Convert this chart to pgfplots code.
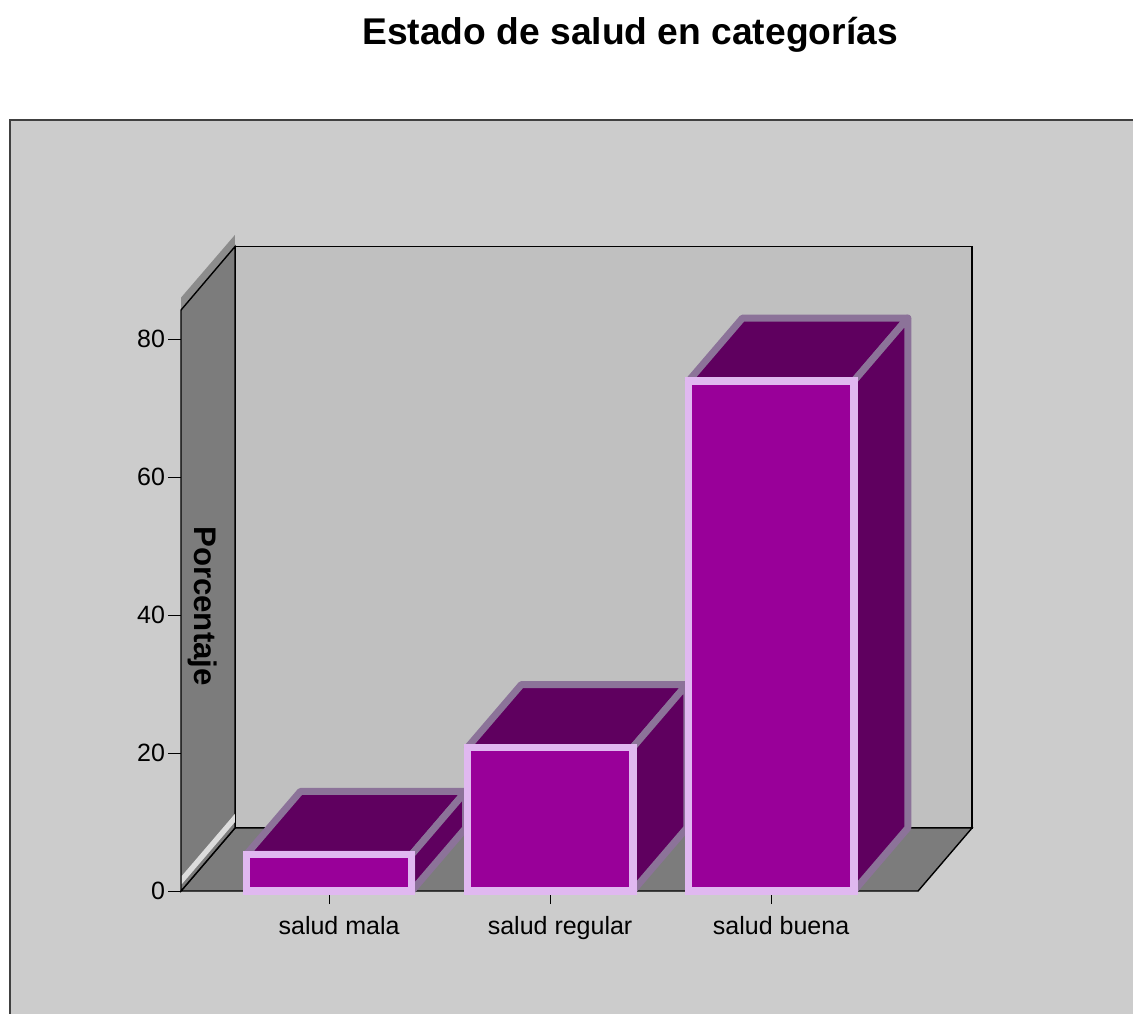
\documentclass[border=0pt]{standalone}
\usepackage{fontspec}
\setmainfont{Liberation Sans}
\usepackage{pgfplots}
\pgfplotsset{compat=1.18}
\definecolor{panel}{HTML}{CCCCCC}
\definecolor{backwall}{HTML}{C0C0C0}
\definecolor{sidewall}{HTML}{7C7C7C}
\definecolor{wallband}{HTML}{8C8C8C}
\definecolor{wallhl}{HTML}{DCDCDC}
\definecolor{barfront}{HTML}{990099}
\definecolor{barborder}{HTML}{E0B8F0}
\definecolor{bartop}{HTML}{5F005F}
\definecolor{bartopborder}{HTML}{8C7399}
\begin{document}
\begin{tikzpicture}
\useasboundingbox (0,0) rectangle (566.5pt,-506.5pt);
\fill[white] (0,0) rectangle (566.5pt,-506.5pt);
\draw[fill=panel, draw=black!75, line width=0.6pt] (5pt,-60pt) rectangle (570pt,-510pt);
\node[anchor=base, font=\bfseries\fontsize{18.6}{22}\selectfont] at (315pt,-22pt) {Estado de salud en categorías};
\begin{axis}[
  at={(90.5pt,-445.5pt)}, anchor=south west,
  scale only axis, width=395.5pt, height=331.2pt,
  xmin=0.330, xmax=3.909, ymin=0, ymax=96,
  axis line style={draw=none},
  clip=false,
  xtick={1,2,3}, xticklabels={salud mala, salud regular, salud buena},
  ytick={0,20,40,60,80},
  xtick pos=bottom, ytick pos=left, tick align=outside,
  major tick length=6.5pt,
  tick style={black, line width=0.5pt},
  ticklabel style={font=\fontsize{12.5}{14}\selectfont},
  xticklabel style={xshift=5pt, yshift=-2.5pt},
  yticklabel style={xshift=2pt},
  /pgf/number format/assume math mode=true,
]
% back wall
\addplot[fill=backwall, draw=black, line width=0.7pt] coordinates {(0.5743,9.13) (3.909,9.13) (3.909,93.4) (0.5743,93.4)} -- cycle;
% floor
\addplot[fill=sidewall, draw=black, line width=0.7pt] coordinates {(0.330,0) (3.665,0) (3.909,9.13) (0.5743,9.13)} -- cycle;
% left wall band
\addplot[fill=wallband, draw=none] coordinates {(0.330,84.2) (0.5743,93.4) (0.5743,95.1) (0.330,86.0)} -- cycle;
% left wall
\addplot[fill=sidewall, draw=black, line width=0.7pt] coordinates {(0.330,0) (0.5743,9.13) (0.5743,93.4) (0.330,84.2)} -- cycle;
% highlight
\addplot[fill=wallhl, draw=none] coordinates {(0.334,1.0) (0.5743,10.0) (0.5743,11.2) (0.334,2.2)} -- cycle;
% bar 1: salud mala = 5.3
\addplot[fill=bartop, draw=bartopborder, line width=3.5pt, line join=round] coordinates {(0.626,5.3) (1.374,5.3) (1.6183,14.43) (0.8703,14.43)} -- cycle;
\addplot[fill=bartop, draw=bartopborder, line width=3.5pt, line join=round] coordinates {(1.374,0) (1.6183,9.13) (1.6183,14.43) (1.374,5.3)} -- cycle;
\addplot[fill=barfront, draw=barborder, line width=3.75pt] coordinates {(0.626,0) (1.374,0) (1.374,5.3) (0.626,5.3)} -- cycle;
% bar 2: salud regular = 20.8
\addplot[fill=bartop, draw=bartopborder, line width=3.5pt, line join=round] coordinates {(1.626,20.8) (2.374,20.8) (2.6183,29.93) (1.8703,29.93)} -- cycle;
\addplot[fill=bartop, draw=bartopborder, line width=3.5pt, line join=round] coordinates {(2.374,0) (2.6183,9.13) (2.6183,29.93) (2.374,20.8)} -- cycle;
\addplot[fill=barfront, draw=barborder, line width=3.75pt] coordinates {(1.626,0) (2.374,0) (2.374,20.8) (1.626,20.8)} -- cycle;
% bar 3: salud buena = 73.9
\addplot[fill=bartop, draw=bartopborder, line width=3.5pt, line join=round] coordinates {(2.626,73.9) (3.374,73.9) (3.6183,83.03) (2.8703,83.03)} -- cycle;
\addplot[fill=bartop, draw=bartopborder, line width=3.5pt, line join=round] coordinates {(3.374,0) (3.6183,9.13) (3.6183,83.03) (3.374,73.9)} -- cycle;
\addplot[fill=barfront, draw=barborder, line width=3.75pt] coordinates {(2.626,0) (3.374,0) (3.374,73.9) (2.626,73.9)} -- cycle;
\node[rotate=-90, font=\bfseries\fontsize{15.6}{18}\selectfont] at (axis cs:0.4295,41.3) {Porcentaje};
\end{axis}
\end{tikzpicture}
\end{document}
